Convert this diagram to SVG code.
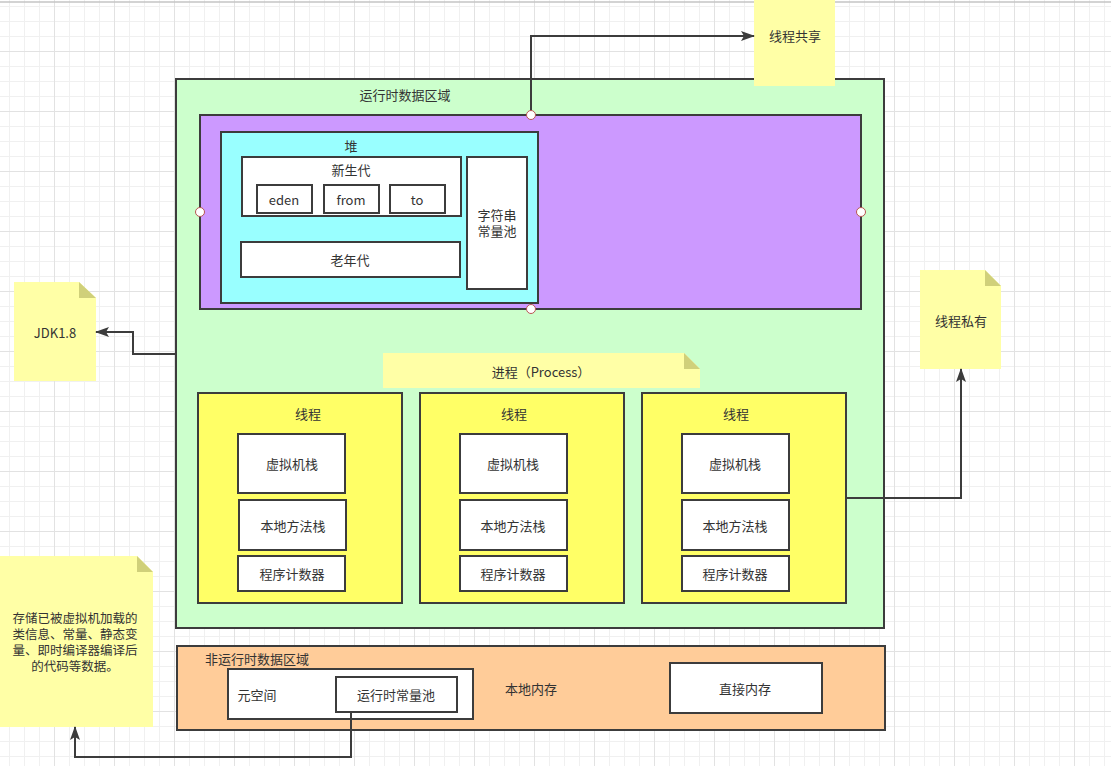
<svg xmlns="http://www.w3.org/2000/svg" width="1111" height="766" viewBox="0 0 1111 766">
<style>
text{font-family:"Noto Sans CJK SC","Noto Sans",sans-serif;font-size:13px;fill:#333;text-anchor:middle;dominant-baseline:central}
text.s{font-family:"Liberation Sans","Noto Sans CJK SC",sans-serif;font-size:12.5px}
text.m{font-family:"Liberation Sans","Noto Sans CJK SC",sans-serif}
.b{stroke:#3c3c3c;stroke-width:2}
.w{fill:#fff}
.note{fill:#ffffa6}
.fold{fill:#d0d07a}
.pt{fill:#fff;stroke:#b85450;stroke-width:1}
.c{fill:none;stroke:#3c3c3c;stroke-width:2}
</style>
<defs>
<pattern id="grid" patternUnits="userSpaceOnUse" x="54" y="51" width="60" height="60">
<path d="M15.5 0V60M30.5 0V60M45.5 0V60M0 15.5H60M0 30.5H60M0 45.5H60" stroke="#f0f0f0" stroke-width="1" fill="none"/>
<path d="M0.5 0V60M0 0.5H60" stroke="#e2e2e2" stroke-width="1" fill="none"/>
</pattern>
<marker id="arr" viewBox="0 0 14 10" refX="13" refY="5" markerWidth="14" markerHeight="10" markerUnits="userSpaceOnUse" orient="auto">
<path d="M0 0L14 5L0 10L3 5Z" fill="#3c3c3c"/>
</marker>
</defs>
<rect width="1111" height="766" fill="#fff"/>
<rect width="1111" height="766" fill="url(#grid)"/>
<line x1="0" y1="2" x2="1111" y2="2" stroke="#c4c4c4" stroke-width="1.5"/>

<g id="runtime-area">
<rect x="176" y="79" width="708" height="549" fill="#ccffcc" class="b"/>
<text x="405" y="94">运行时数据区域</text>
</g>
<g id="shared-area">
<rect x="200" y="115" width="661" height="194" fill="#cc99ff" class="b"/>
</g>
<g id="heap">
<rect x="221" y="132" width="317" height="171" fill="#99ffff" class="b"/>
<text x="351" y="145">堆</text>
</g>
<g id="young">
<rect x="242" y="157" width="219" height="59" class="b w"/>
<text x="351" y="169">新生代</text>
</g>
<g id="eden"><rect x="257" y="185" width="55" height="28" class="b w"/><text x="284" y="199">eden</text></g>
<g id="from"><rect x="324" y="185" width="55" height="28" class="b w"/><text x="351" y="199">from</text></g>
<g id="to"><rect x="390" y="185" width="55" height="28" class="b w"/><text x="417" y="199">to</text></g>
<g id="old"><rect x="241" y="242" width="219" height="35" class="b w"/><text x="350" y="259">老年代</text></g>
<g id="string-pool"><rect x="467" y="157" width="60" height="132" class="b w"/><text class="m" x="497" y="215"><tspan x="497" y="215">字符串</tspan><tspan x="497" y="231">常量池</tspan></text></g>

<g id="note-shared">
<path d="M754 -20H819L835 -4V86H754Z" class="note"/>
<text x="795" y="35">线程共享</text>
</g>
<g id="note-jdk">
<path d="M14 282H79L96 298V381H14Z" class="note"/>
<path d="M79 282V298H96Z" class="fold"/>
<text x="55" y="332">JDK1.8</text>
</g>
<g id="note-private">
<path d="M920 270H985L1001 286V369H920Z" class="note"/>
<path d="M985 270V286H1001Z" class="fold"/>
<text x="961" y="320">线程私有</text>
</g>
<g id="note-process">
<path d="M383 353H684L700 369V388H383Z" class="note"/>
<path d="M684 353V369H700Z" class="fold"/>
<text x="541" y="371">进程（Process）</text>
</g>

<g id="thread1">
<rect x="198" y="393" width="204" height="210" fill="#ffff66" class="b"/>
<text x="308" y="413">线程</text>
<rect x="238" y="434" width="107" height="59" class="b w"/><text x="292" y="463">虚拟机栈</text>
<rect x="239" y="500" width="107" height="50" class="b w"/><text x="293" y="525">本地方法栈</text>
<rect x="238" y="556" width="107" height="35" class="b w"/><text x="292" y="573">程序计数器</text>
</g>
<g id="thread2">
<rect x="420" y="393" width="204" height="210" fill="#ffff66" class="b"/>
<text x="514" y="413">线程</text>
<rect x="460" y="434" width="107" height="59" class="b w"/><text x="513" y="463">虚拟机栈</text>
<rect x="460" y="500" width="107" height="50" class="b w"/><text x="513" y="525">本地方法栈</text>
<rect x="460" y="556" width="107" height="35" class="b w"/><text x="513" y="573">程序计数器</text>
</g>
<g id="thread3">
<rect x="642" y="393" width="204" height="210" fill="#ffff66" class="b"/>
<text x="736" y="413">线程</text>
<rect x="682" y="434" width="107" height="59" class="b w"/><text x="735" y="463">虚拟机栈</text>
<rect x="682" y="500" width="107" height="50" class="b w"/><text x="735" y="525">本地方法栈</text>
<rect x="682" y="556" width="107" height="35" class="b w"/><text x="735" y="573">程序计数器</text>
</g>

<g id="non-runtime-area">
<rect x="177" y="646" width="708" height="84" fill="#ffcc99" class="b"/>
<text x="257" y="658">非运行时数据区域</text>
<text x="531" y="688">本地内存</text>
</g>
<g id="metaspace">
<rect x="228" y="669" width="245" height="50" class="b w"/>
<text x="257" y="694">元空间</text>
</g>
<g id="runtime-constant-pool">
<rect x="336" y="677" width="121" height="35" class="b w"/>
<text x="396" y="694">运行时常量池</text>
</g>
<g id="direct-memory">
<rect x="670" y="663" width="152" height="50" class="b w"/>
<text x="745" y="688">直接内存</text>
</g>
<g id="note-metaspace">
<path d="M-10 556H137L153 572V727H-10Z" class="note"/>
<path d="M137 556V572H153Z" class="fold"/>
<text class="s" x="75" y="619"><tspan x="75" y="619">存储已被虚拟机加载的</tspan><tspan x="75" y="635">类信息、常量、静态变</tspan><tspan x="75" y="651">量、即时编译器编译后</tspan><tspan x="75" y="667">的代码等数据。</tspan></text>
</g>

<g id="connectors">
<path d="M531 115V36H754" class="c" marker-end="url(#arr)"/>
<path d="M176 354H133V332H96" class="c" marker-end="url(#arr)"/>
<path d="M846 498H961V369" class="c" marker-end="url(#arr)"/>
<path d="M351 712V757H75V727" class="c" marker-end="url(#arr)"/>
</g>
<g id="ports">
<circle cx="531" cy="115" r="4.5" class="pt"/>
<circle cx="200" cy="212" r="4.5" class="pt"/>
<circle cx="861" cy="212" r="4.5" class="pt"/>
<circle cx="531" cy="309" r="4.5" class="pt"/>
</g>
</svg>
